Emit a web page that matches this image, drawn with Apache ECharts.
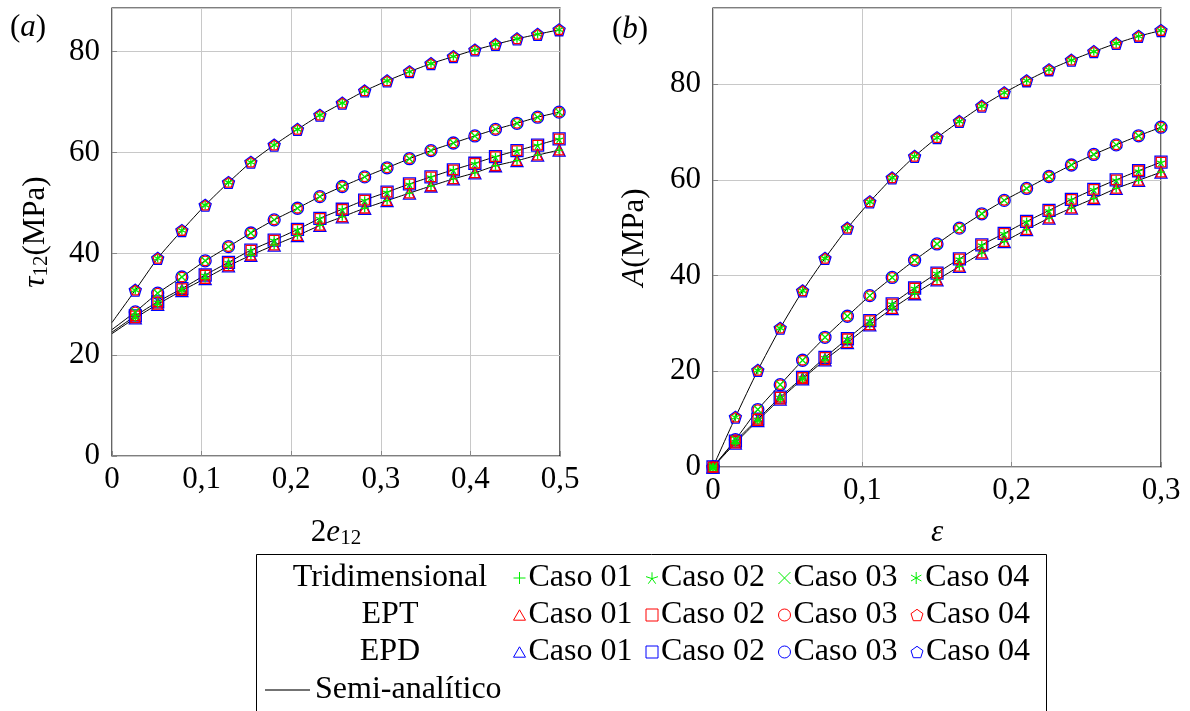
<!DOCTYPE html>
<html>
<head>
<meta charset="utf-8">
<script src="https://cdn.jsdelivr.net/npm/echarts@6/dist/echarts.min.js"></script>
<style>
  html, body { margin: 0; padding: 0; background: #fff; }
  #main { width: 1190px; height: 711px; }
</style>
</head>
<body>
<div id="main"></div>
<script>
var FONT = '"Liberation Serif", "DejaVu Serif", serif';

var casoNames = ['Caso 01', 'Caso 02', 'Caso 03', 'Caso 04'];

// (a) tau12 x 2e12
var shearX = [0.026, 0.051, 0.078, 0.104, 0.130, 0.155, 0.181, 0.207, 0.232, 0.257,
              0.282, 0.307, 0.332, 0.356, 0.381, 0.405, 0.428, 0.452, 0.475, 0.499];
var shearStart = [24.2, 24.5, 25.0, 26.4];
var shearCaso01 = [27.3, 30.0, 32.7, 35.1, 37.6, 39.7, 41.7, 43.6, 45.6, 47.3,
                   49.0, 50.5, 52.0, 53.4, 54.8, 56.0, 57.4, 58.4, 59.5, 60.5];
var shearCaso02 = [27.7, 30.5, 33.1, 35.8, 38.3, 40.7, 42.7, 44.8, 47.0, 48.8,
                   50.6, 52.2, 53.8, 55.2, 56.6, 57.9, 59.2, 60.4, 61.5, 62.7];
var shearCaso03 = [28.5, 32.2, 35.4, 38.6, 41.4, 44.1, 46.7, 49.0, 51.3, 53.3,
                   55.2, 57.0, 58.8, 60.4, 61.9, 63.3, 64.6, 65.8, 67.0, 68.0];
var shearCaso04 = [32.8, 39.1, 44.6, 49.6, 54.1, 58.1, 61.5, 64.6, 67.4, 69.8,
                   72.2, 74.2, 76.0, 77.6, 79.0, 80.3, 81.4, 82.5, 83.4, 84.3];

// (b) A x epsilon
var strainX = [0, 0.015, 0.03, 0.045, 0.06, 0.075, 0.09, 0.105, 0.12, 0.135, 0.15,
               0.165, 0.18, 0.195, 0.21, 0.225, 0.24, 0.255, 0.27, 0.285, 0.3];
var tensCaso01 = [0, 5.0, 9.7, 14.2, 18.4, 22.4, 26.0, 29.7, 33.1, 36.2, 39.1,
                  41.9, 44.7, 47.1, 49.6, 52.0, 54.1, 56.1, 58.2, 59.9, 61.6];
var tensCaso02 = [0, 5.4, 10.0, 14.6, 18.7, 22.9, 26.8, 30.6, 34.1, 37.4, 40.5,
                  43.5, 46.4, 48.8, 51.3, 53.6, 55.9, 58.0, 60.0, 61.9, 63.7];
var tensCaso03 = [0, 5.7, 12.0, 17.2, 22.3, 27.1, 31.5, 35.8, 39.6, 43.2, 46.6,
                  49.9, 52.9, 55.7, 58.2, 60.7, 63.1, 65.3, 67.3, 69.2, 71.0];
var tensCaso04 = [0, 10.4, 20.2, 29.0, 36.8, 43.6, 49.9, 55.4, 60.4, 64.9, 68.8,
                  72.2, 75.4, 78.2, 80.7, 83.0, 85.0, 86.8, 88.5, 90.0, 91.2];

var pentagon = 'path://M5,0L9.755,3.455L7.939,9.045L2.061,9.045L0.245,3.455Z';
var triangle = 'path://M5,0L10,8.66L0,8.66Z';
var openMarks = [triangle, 'rect', 'circle', pentagon];
var greenMarks = [
    'path://M5,0L5,10M0,5L10,5',
    'path://M5,5L5,0M5,5L0.245,3.455M5,5L2.061,9.045M5,5L7.939,9.045M5,5L9.755,3.455',
    'path://M1,1L9,9M1,9L9,1',
    'path://M5,0L5,10M0.67,2.5L9.33,7.5M0.67,7.5L9.33,2.5'
];

var models = [
    {name: 'EPD', color: '#0000ff', size: 12, marks: openMarks},
    {name: 'EPT', color: '#ff0000', size: 9.5, marks: openMarks},
    {name: 'Tridimensional', color: '#00ee00', size: 8, marks: greenMarks}
];

function pairs(xs, ys) {
    return xs.map(function (x, i) {
        return [x, ys[i]];
    });
}

function buildSeries(xs, cases, starts, idx) {
    var out = [];
    cases.forEach(function (ys, c) {
        var d = pairs(xs, ys);
        if (starts) {
            d.unshift([0, starts[c]]);
        }
        out.push({
            name: 'Semi-analítico',
            type: 'line',
            xAxisIndex: idx,
            yAxisIndex: idx,
            data: d,
            symbol: 'none',
            smooth: 0.2,
            lineStyle: {color: '#000', width: 1},
            itemStyle: {color: '#000'},
            z: 1,
            animation: false
        });
    });
    models.forEach(function (m) {
        cases.forEach(function (ys, c) {
            out.push({
                name: m.name + ' · ' + casoNames[c],
                type: 'scatter',
                xAxisIndex: idx,
                yAxisIndex: idx,
                data: pairs(xs, ys),
                symbol: m.marks[c],
                symbolSize: m.size,
                itemStyle: {color: 'transparent', borderColor: m.color, borderWidth: 1.3, opacity: 1},
                z: 3,
                animation: false
            });
        });
    });
    return out;
}

var shearCases = [shearCaso01, shearCaso02, shearCaso03, shearCaso04];
var tensCases = [tensCaso01, tensCaso02, tensCaso03, tensCaso04];

var series = buildSeries(shearX, shearCases, shearStart, 0)
    .concat(buildSeries(strainX, tensCases, null, 1));

function comma(v) {
    return String(+v.toFixed(2)).replace('.', ',');
}

var nameRich = {
    it: {fontFamily: FONT, fontSize: 31, fontStyle: 'italic', color: '#000'},
    sub: {fontFamily: FONT, fontSize: 21, color: '#000', padding: [12, 0, 0, 0]},
    n: {fontFamily: FONT, fontSize: 31, color: '#000'}
};

function xAxisOf(idx, max, name, gap) {
    return {
        type: 'value', gridIndex: idx, min: 0, max: max, interval: 0.1,
        name: name, nameLocation: 'middle', nameGap: gap,
        nameTextStyle: {fontFamily: FONT, fontSize: 31, color: '#000', rich: nameRich},
        axisLine: {show: false},
        axisTick: {show: true, inside: true, length: 5, lineStyle: {color: '#888'}},
        axisLabel: {fontFamily: FONT, fontSize: 31, color: '#000', margin: 8, formatter: comma},
        splitLine: {show: true, lineStyle: {color: '#c8c8c8', width: 1}}
    };
}

function yAxisOf(idx, max, name, gap) {
    return {
        type: 'value', gridIndex: idx, min: 0, max: max, interval: 20,
        name: name, nameLocation: 'middle', nameGap: gap, nameRotate: 90,
        nameTextStyle: {fontFamily: FONT, fontSize: 31, color: '#000', rich: nameRich},
        axisLine: {show: false},
        axisTick: {show: true, inside: true, length: 5, lineStyle: {color: '#888'}},
        axisLabel: {fontFamily: FONT, fontSize: 31, color: '#000', margin: 12, showMaxLabel: false},
        splitLine: {show: true, lineStyle: {color: '#c8c8c8', width: 1}}
    };
}

function legendRow(prefix, top) {
    return {
        left: 513, top: top, padding: 0, itemGap: 13,
        itemWidth: 12, itemHeight: 12,
        data: casoNames.map(function (c) { return prefix + ' · ' + c; }),
        formatter: function (name) { return name.split(' · ')[1]; },
        textStyle: {fontFamily: FONT, fontSize: 32, color: '#000', padding: [0, 0, 0, -2]},
        itemStyle: {borderWidth: 1}
    };
}

var chart = echarts.init(document.getElementById('main'));

var option = {
    backgroundColor: '#fff',
    animation: false,
    textStyle: {fontFamily: FONT},
    grid: [
        {left: 112, top: 8, width: 448, height: 448, show: true, borderColor: '#000', borderWidth: 1.2},
        {left: 713, top: 8, width: 448, height: 459, show: true, borderColor: '#000', borderWidth: 1.2}
    ],
    xAxis: [
        xAxisOf(0, 0.5, '{n|2}{it|e}{sub|12}', 60),
        xAxisOf(1, 0.3, '{it|ε}', 50)
    ],
    yAxis: [
        yAxisOf(0, 88.6, '{it|τ}{sub|12}{n|(MPa)}', 60),
        yAxisOf(1, 95.9, '{it|A}{n|(MPa)}', 63)
    ],
    legend: [
        legendRow('Tridimensional', 562),
        legendRow('EPT', 599),
        legendRow('EPD', 636),
        {
            left: 265, top: 674, padding: 0,
            itemWidth: 45, itemHeight: 1.5, icon: 'rect',
            data: ['Semi-analítico'],
            itemStyle: {color: '#444', borderWidth: 0},
            textStyle: {fontFamily: FONT, fontSize: 32, color: '#000'}
        }
    ],
    graphic: [
        {type: 'rect', shape: {x: 256.5, y: 554.5, width: 790, height: 170},
         style: {fill: 'none', stroke: '#000', lineWidth: 1}, z: -1},
        {type: 'text', x: 390, y: 578, style: {text: 'Tridimensional', fontFamily: FONT, fontSize: 32, fill: '#000', align: 'center', verticalAlign: 'middle'}},
        {type: 'text', x: 390, y: 615, style: {text: 'EPT', fontFamily: FONT, fontSize: 32, fill: '#000', align: 'center', verticalAlign: 'middle'}},
        {type: 'text', x: 390, y: 652, style: {text: 'EPD', fontFamily: FONT, fontSize: 32, fill: '#000', align: 'center', verticalAlign: 'middle'}},
        {type: 'text', x: 28, y: 28, style: {
            text: '{n|(}{i|a}{n|)}', fill: '#000', align: 'center', verticalAlign: 'middle',
            rich: {i: {fontFamily: FONT, fontSize: 31, fontStyle: 'italic'}, n: {fontFamily: FONT, fontSize: 31}}}},
        {type: 'text', x: 630, y: 30, style: {
            text: '{n|(}{i|b}{n|)}', fill: '#000', align: 'center', verticalAlign: 'middle',
            rich: {i: {fontFamily: FONT, fontSize: 31, fontStyle: 'italic'}, n: {fontFamily: FONT, fontSize: 31}}}}
    ],
    series: series
};

chart.setOption(option);
</script>
</body>
</html>
